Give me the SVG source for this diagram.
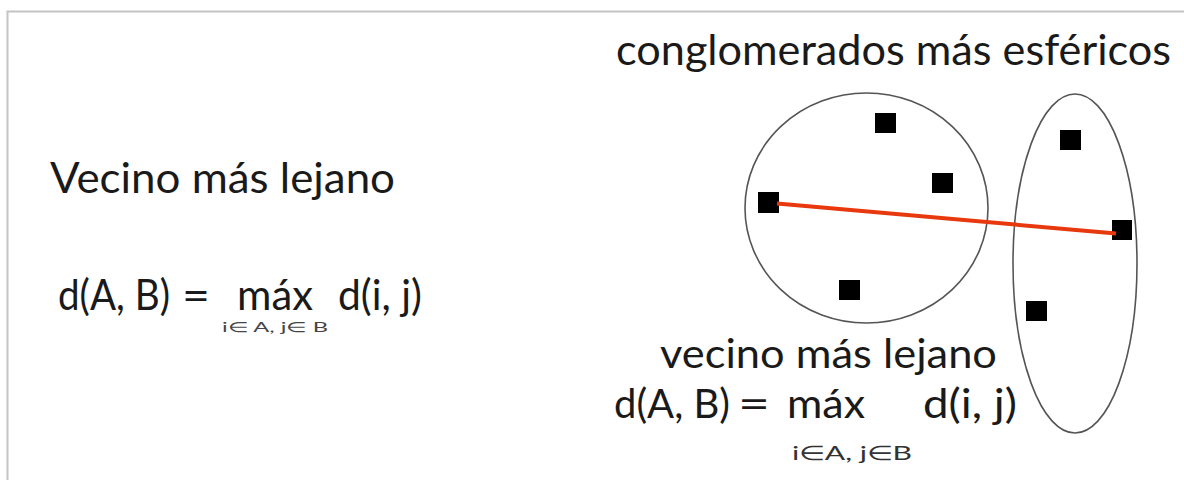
<svg xmlns="http://www.w3.org/2000/svg" width="1184" height="480" viewBox="0 0 1184 480">
  <style>
    .t { font-family: Lato, "Liberation Sans", sans-serif; fill: #1a1a1a; }
    .big { font-size: 42px; }
    .mid { font-size: 40px; }
    .sub { font-size: 14px; fill: #444; }
    .sub2 { font-size: 20px; fill: #333; }
    .cl { fill: none; stroke: #555; stroke-width: 1.6; }
    .pt { fill: #000; }
  </style>
  <rect x="0" y="0" width="1184" height="480" fill="#fff"/>
  <path d="M7.5 480 V11.5 H1184" fill="none" stroke="#c4c4c4" stroke-width="2"/>

  <g id="left-title">
    <text class="t big" x="50" y="193" textLength="345" lengthAdjust="spacingAndGlyphs">Vecino más lejano</text>
  </g>
  <g id="left-formula">
    <text class="t big" y="310">
      <tspan x="58" textLength="112" lengthAdjust="spacingAndGlyphs">d(A, B)</tspan>
      <tspan x="182" textLength="28" lengthAdjust="spacingAndGlyphs">=</tspan>
      <tspan x="237" textLength="76" lengthAdjust="spacingAndGlyphs">máx</tspan>
      <tspan x="338" textLength="84" lengthAdjust="spacingAndGlyphs">d(i, j)</tspan>
    </text>
    <text class="t sub" x="222" y="332" textLength="106" lengthAdjust="spacingAndGlyphs">i∈ A, j∈ B</text>
  </g>

  <g id="right-title">
    <text class="t big" x="616" y="65" textLength="555" lengthAdjust="spacingAndGlyphs">conglomerados más esféricos</text>
  </g>

  <g id="cluster-A">
    <ellipse class="cl" cx="866.5" cy="208" rx="121.5" ry="115"/>
    <rect class="pt" x="875" y="113" width="21" height="20"/>
    <rect class="pt" x="932" y="173" width="21" height="20"/>
    <rect class="pt" x="758" y="192" width="21" height="21"/>
    <rect class="pt" x="839" y="280" width="21" height="20"/>
  </g>
  <g id="cluster-B">
    <ellipse class="cl" cx="1075" cy="263.5" rx="62" ry="169.5"/>
    <rect class="pt" x="1060" y="130" width="21" height="20"/>
    <rect class="pt" x="1112" y="220" width="20" height="20"/>
    <rect class="pt" x="1026" y="301" width="21" height="20"/>
  </g>

  <g id="connectors">
    <line x1="777" y1="203.5" x2="1116" y2="233.5" stroke="#e8390e" stroke-width="4"/>
  </g>

  <g id="right-label">
    <text class="t mid" x="660" y="368" textLength="337" lengthAdjust="spacingAndGlyphs">vecino más lejano</text>
  </g>
  <g id="right-formula">
    <text class="t mid" y="418">
      <tspan x="614" textLength="116" lengthAdjust="spacingAndGlyphs">d(A, B)</tspan>
      <tspan x="738" textLength="32" lengthAdjust="spacingAndGlyphs">=</tspan>
      <tspan x="787" textLength="78" lengthAdjust="spacingAndGlyphs">máx</tspan>
      <tspan x="923" textLength="94" lengthAdjust="spacingAndGlyphs">d(i, j)</tspan>
    </text>
    <text class="t sub2" x="792" y="460" textLength="120" lengthAdjust="spacingAndGlyphs">i∈A, j∈B</text>
  </g>
</svg>
